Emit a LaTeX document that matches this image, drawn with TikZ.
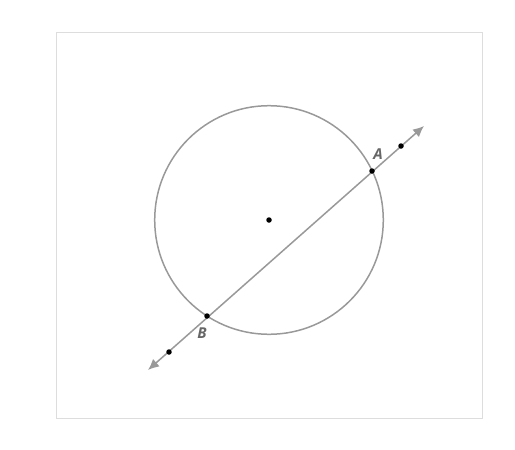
\documentclass[tikz,border=0pt]{standalone}
\usepackage{fontspec}
\setsansfont{Open Sans}
\usetikzlibrary{arrows.meta}
\definecolor{linegray}{HTML}{999999}
\definecolor{framegray}{HTML}{DDDDDD}
\definecolor{labelgray}{HTML}{666666}
\tikzset{
	pt/.style={circle,fill=black,inner sep=0pt,minimum size=5.5pt},
	lbl/.style={text=labelgray,font=\sffamily\bfseries\itshape\fontsize{15}{15}\selectfont,inner sep=0pt}
}
\begin{document}
\begin{tikzpicture}[x=1pt,y=-1pt]
		\useasboundingbox (0,0) rectangle (515,450);
		\draw[framegray,line width=1pt] (56,32) rectangle (482,418);
		\draw[linegray,line width=1.5pt] (269,220) circle (114.3);
		\coordinate (e1) at (424,126);
		\coordinate (e2) at (148,370);
		\draw[linegray,line width=1.5pt,{Latex[length=11pt,width=10pt]}-{Latex[length=11pt,width=10pt]}] (e2)--(e1);
		\node[pt,name=o] at (269,220){};
		\node[pt,name=a] at (372,171){};
		\node[pt,name=b] at (207,316){};
		\node[pt,name=p] at (401,146){};
		\node[pt,name=q] at (169,352){};
		\node[lbl,name=la] at (378,154){A};
		\node[lbl,name=lb] at (202,333){B};
	\end{tikzpicture}
\end{document}
